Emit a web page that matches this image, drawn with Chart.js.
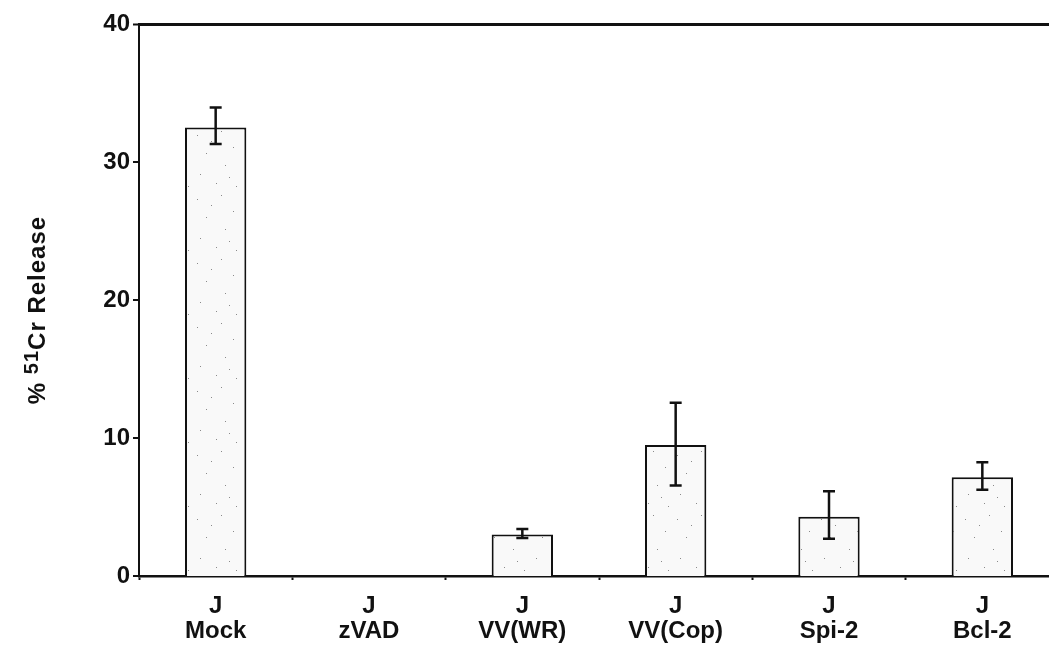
<!DOCTYPE html>
<html>
<head>
<meta charset="utf-8">
<script src="https://cdn.jsdelivr.net/npm/chart.js@4"></script>
<style>
  html, body { margin: 0; padding: 0; background: #fff; overflow: hidden; }
  #wrap { width: 1062px; height: 646px; }
</style>
</head>
<body>
<div id="wrap"><canvas id="myChart" width="1062" height="646"></canvas></div>
<script>
// Data
const groups = ['J', 'J', 'J', 'J', 'J', 'J'];
const treatments = ['Mock', 'zVAD', 'VV(WR)', 'VV(Cop)', 'Spi-2', 'Bcl-2'];
const release = [32.5, 0, 3.0, 9.5, 4.3, 7.15];
const errLow = [31.3, null, 2.75, 6.55, 2.7, 6.25];
const errHigh = [33.95, null, 3.4, 12.55, 6.15, 8.25];
const yTicks = [0, 10, 20, 30, 40];

const FONT = '"Liberation Sans", Arial, sans-serif';

// light stippled fill like the printed bars
function stipple() {
  const c = document.createElement('canvas');
  c.width = 48;
  c.height = 64;
  const g = c.getContext('2d');
  g.fillStyle = '#f9f9f9';
  g.fillRect(0, 0, 48, 64);
  g.fillStyle = '#8a8a8a';
  const dots = [[5, 7], [29, 3], [41, 19], [14, 25], [33, 37], [8, 46], [24, 55], [44, 58], [19, 13], [37, 49]];
  dots.forEach(([x, y]) => g.fillRect(x, y, 1, 1));
  return g.createPattern(c, 'repeat');
}

const errorBars = {
  id: 'errorBars',
  afterDatasetsDraw(chart) {
    const { ctx, scales } = chart;
    const meta = chart.getDatasetMeta(0);
    ctx.save();
    ctx.strokeStyle = '#111';
    ctx.lineWidth = 2.5;
    meta.data.forEach((bar, i) => {
      if (errLow[i] == null) return;
      const x = bar.x;
      const yl = scales.y.getPixelForValue(errLow[i]);
      const yh = scales.y.getPixelForValue(errHigh[i]);
      ctx.beginPath();
      ctx.moveTo(x, yl);
      ctx.lineTo(x, yh);
      ctx.moveTo(x - 6, yl);
      ctx.lineTo(x + 6, yl);
      ctx.moveTo(x - 6, yh);
      ctx.lineTo(x + 6, yh);
      ctx.stroke();
    });
    ctx.restore();
  },
};

// rotated y title with superscript isotope number
const yTitle = {
  id: 'yTitle',
  afterDraw(chart) {
    const { ctx, chartArea } = chart;
    const cy = (chartArea.top + chartArea.bottom) / 2 + 10;
    ctx.save();
    ctx.translate(45, cy);
    ctx.rotate(-Math.PI / 2);
    ctx.fillStyle = '#111';
    ctx.textBaseline = 'alphabetic';
    ctx.letterSpacing = '1px';
    const big = 'bold 24px ' + FONT;
    const small = 'bold 20px ' + FONT;
    ctx.font = big;
    const w1 = ctx.measureText('% ').width;
    const w3 = ctx.measureText('Cr Release').width;
    ctx.font = small;
    const w2 = ctx.measureText('51').width;
    const total = w1 + w2 + w3;
    let x = -total / 2;
    ctx.font = big;
    ctx.fillText('%', x, 0);
    x += w1;
    ctx.font = small;
    ctx.fillText('51', x, -7);
    x += w2;
    ctx.font = big;
    ctx.fillText('Cr Release', x, 0);
    ctx.restore();
  },
};

const ctx = document.getElementById('myChart');

new Chart(ctx, {
  type: 'bar',
  data: {
    labels: treatments.map((t, i) => [groups[i], t]),
    datasets: [{
      data: release,
      backgroundColor: stipple(),
      borderColor: '#111',
      borderWidth: 2,
      borderSkipped: 'bottom',
      barPercentage: 0.4,
      categoryPercentage: 1,
    }],
  },
  options: {
    responsive: false,
    animation: false,
    layout: { padding: { top: 24, right: 3, bottom: 0, left: 0 } },
    plugins: {
      legend: { display: false },
      tooltip: { enabled: false },
    },
    scales: {
      x: {
        offset: true,
        grid: {
          offset: true,
          drawOnChartArea: false,
          drawTicks: true,
          tickLength: 4,
          tickColor: '#111',
          tickWidth: 2,
        },
        border: { display: true, color: '#111', width: 2.5 },
        ticks: {
          color: '#111',
          padding: 14,
          maxRotation: 0,
          font: { family: FONT, size: 24, weight: 'bold', lineHeight: 1.05 },
        },
        afterFit(scale) { scale.height = 70; },
      },
      y: {
        min: 0,
        max: 40,
        afterBuildTicks(scale) { scale.ticks = yTicks.map((v) => ({ value: v })); },
        grid: {
          color: (c) => (c.tick && c.tick.value === 40 ? '#111' : 'rgba(0,0,0,0)'),
          lineWidth: (c) => (c.tick && c.tick.value === 40 ? 3 : 0),
          drawTicks: true,
          tickLength: 6,
          tickColor: '#111',
          tickWidth: 2,
        },
        border: { display: true, color: '#111', width: 2 },
        ticks: {
          color: '#111',
          padding: 3,
          font: { family: FONT, size: 24, weight: 'bold' },
        },
        afterFit(scale) { scale.width = 139; },
      },
    },
  },
  plugins: [errorBars, yTitle],
});
</script>
</body>
</html>
